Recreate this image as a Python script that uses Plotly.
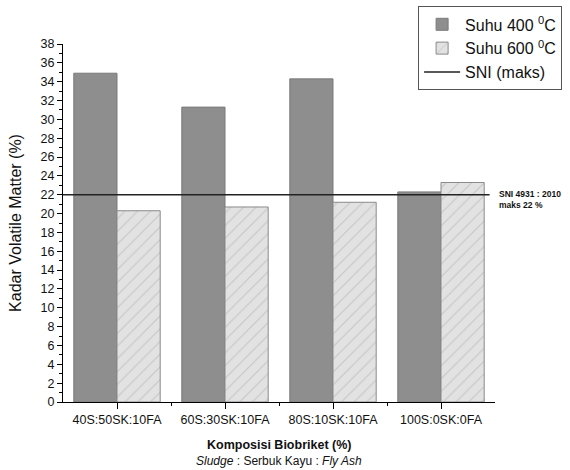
import plotly.graph_objects as go

categories = ["40S:50SK:10FA", "60S:30SK:10FA", "80S:10SK:10FA", "100S:0SK:0FA"]
suhu_400 = [34.9, 31.3, 34.3, 22.3]
suhu_600 = [20.3, 20.7, 21.2, 23.3]
sni_maks = 22
y_ticks = list(range(0, 40, 2))

xpos = list(range(len(categories)))
FONT = "Arial, Liberation Sans, sans-serif"

fig = go.Figure()
fig.add_trace(go.Bar(
    x=xpos, y=suhu_400, name="Suhu 400 <sup>0</sup>C",
    marker=dict(color="#8e8e8e", line=dict(color="#7a7a7a", width=1)),
    width=0.4, offset=-0.4,
))
fig.add_trace(go.Bar(
    x=xpos, y=suhu_600, name="Suhu 600 <sup>0</sup>C",
    marker=dict(color="#e2e2e2", line=dict(color="#8a8a8a", width=1),
                pattern=dict(shape="/", bgcolor="#e2e2e2", fgcolor="#a8a8a8",
                             size=9, solidity=0.12)),
    width=0.4, offset=0,
))
fig.add_trace(go.Scatter(
    x=[-0.5, 3.45], y=[sni_maks, sni_maks], mode="lines", name="SNI (maks)",
    line=dict(color="#222222", width=1.5),
))

fig.update_layout(
    width=570, height=470,
    margin=dict(l=63, r=75, t=44, b=68, autoexpand=False),
    plot_bgcolor="white", paper_bgcolor="white",
    font=dict(family=FONT, color="#111111", size=12),
    bargap=0.2,
    showlegend=True,
    legend=dict(x=0.822, y=1.105, xanchor="left", yanchor="top",
                bordercolor="#555555", borderwidth=1, bgcolor="white",
                font=dict(size=16, family=FONT), itemwidth=36,
                tracegroupgap=0, traceorder="normal"),
    xaxis=dict(
        range=[-0.5, 3.5], tickmode="array", tickvals=xpos, ticktext=categories,
        showline=True, linecolor="black", linewidth=1, showgrid=False,
        ticks="outside", ticklen=6, tickcolor="black", zeroline=False,
        tickfont=dict(size=12.5),
        minor=dict(tickmode="array", tickvals=[0.5, 1.5, 2.5], ticks="outside",
                   ticklen=3, tickcolor="black"),
    ),
    yaxis=dict(
        range=[0, 38], tickmode="array", tickvals=y_ticks,
        showline=True, linecolor="black", linewidth=1, showgrid=False,
        ticks="outside", ticklen=5, tickcolor="black", zeroline=False,
        tickfont=dict(size=12.5),
        minor=dict(dtick=1, ticks="outside", ticklen=3, tickcolor="black"),
        title=dict(text="Kadar Volatile Matter (%)", font=dict(size=16), standoff=14),
    ),
)

fig.add_annotation(
    text="<b>Komposisi Biobriket (%)</b>", xref="paper", yref="paper",
    x=0.5, y=-0.12, yanchor="middle", showarrow=False, font=dict(size=12.5))
fig.add_annotation(
    text="<i>Sludge</i> : Serbuk Kayu : <i>Fly Ash</i>", xref="paper", yref="paper",
    x=0.5, y=-0.165, yanchor="middle", showarrow=False, font=dict(size=12))
fig.add_annotation(
    text="<b>SNI 4931 : 2010</b><br><b>maks 22 %</b>", xref="paper", yref="y",
    x=1.005, y=22.8, xanchor="left", yanchor="top", align="left",
    showarrow=False, font=dict(size=8.5))

fig.write_html("out.html", config={"displayModeBar": False},
               post_script="document.body.style.margin='0';document.body.style.overflow='hidden';")
